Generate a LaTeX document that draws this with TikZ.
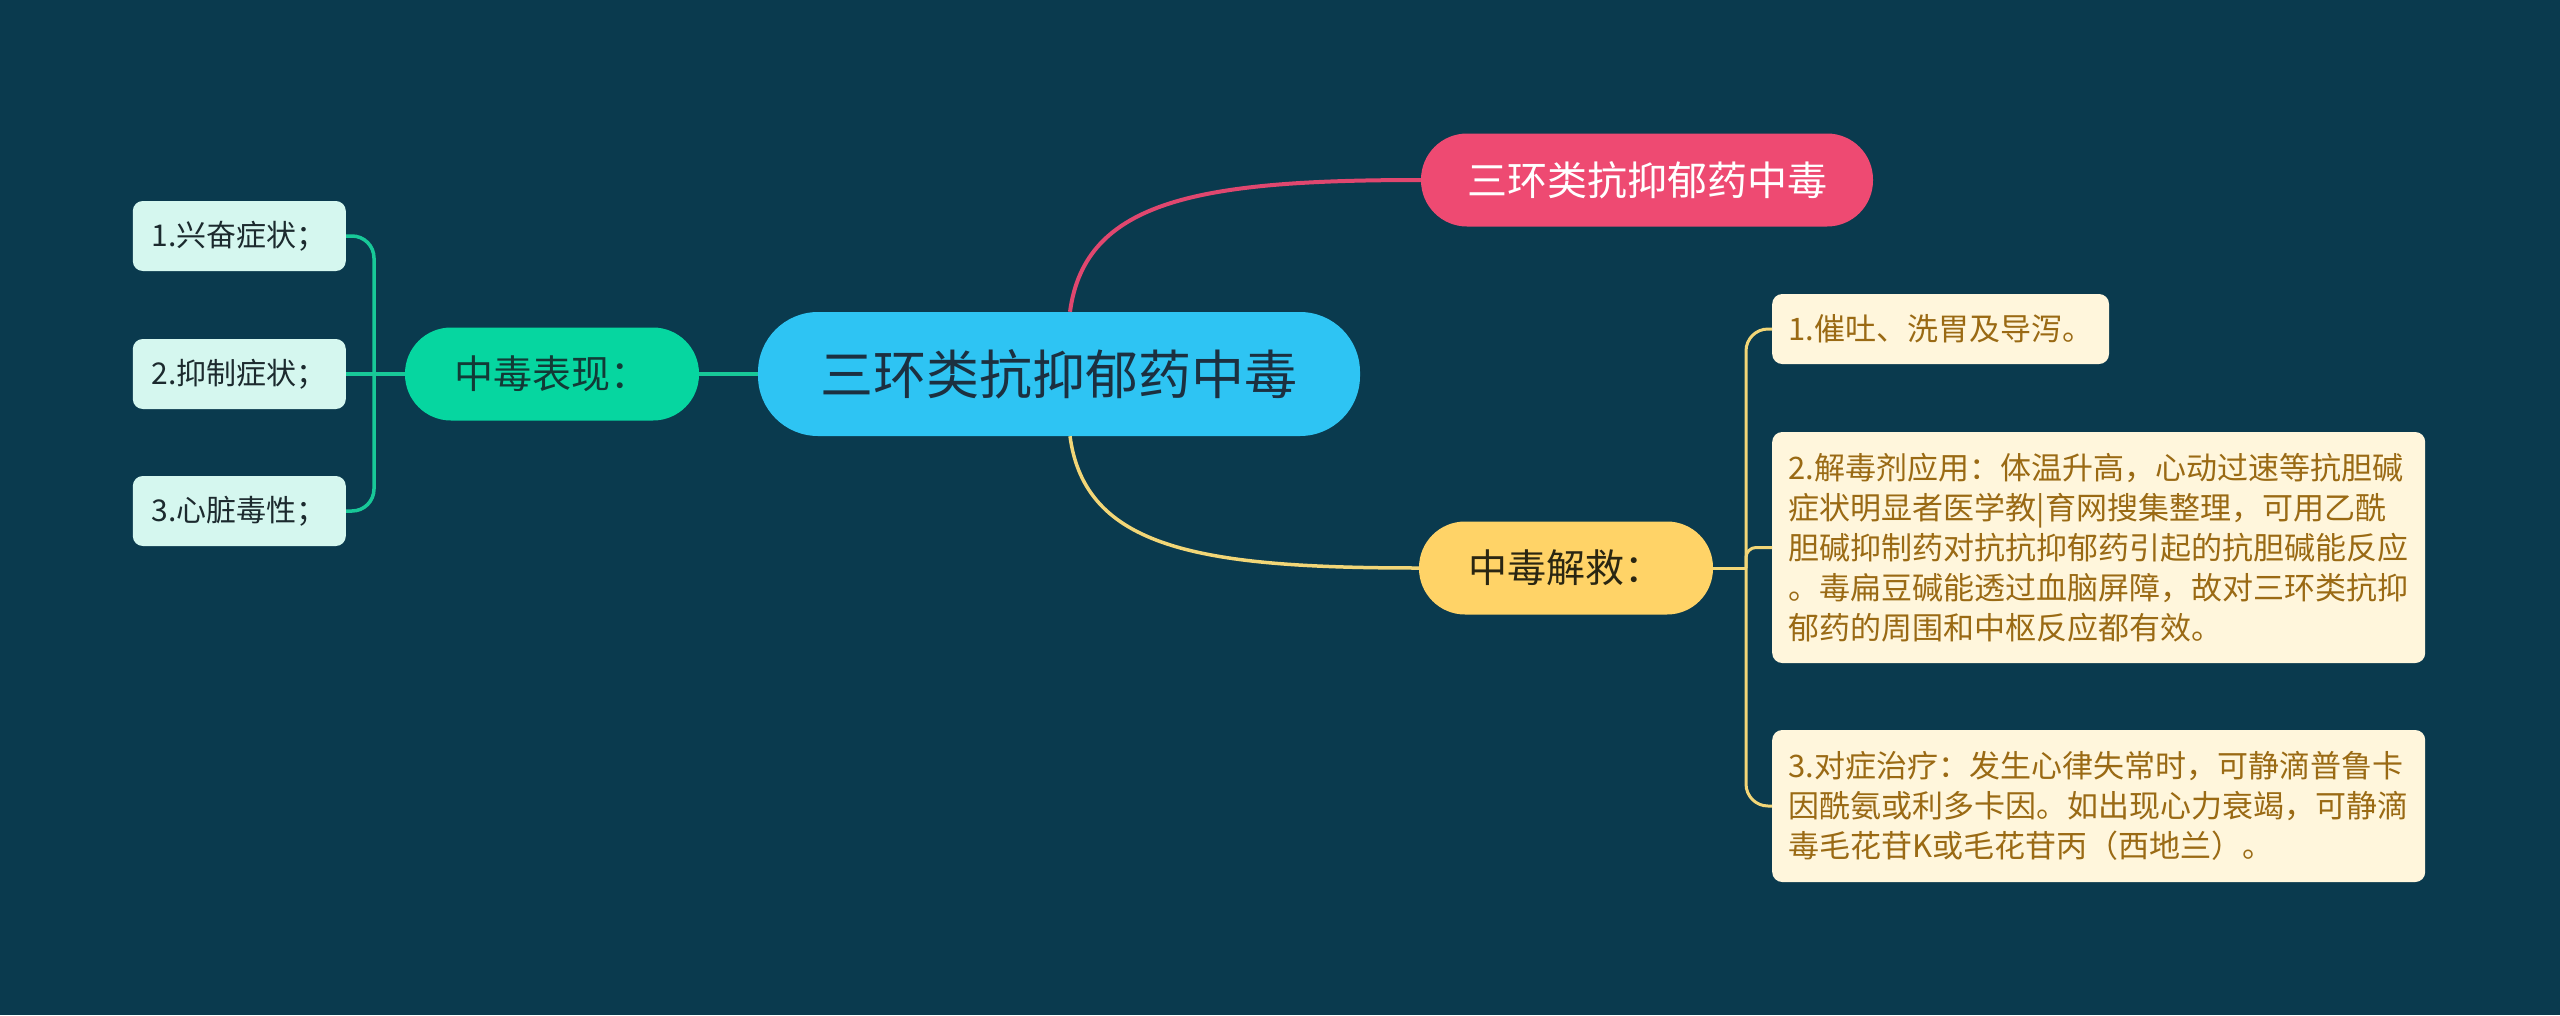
\documentclass[tikz,border=0pt]{standalone}
\usepackage{fontspec}
\newfontfamily\cjk{Noto Sans CJK SC}
\definecolor{bg}{HTML}{0A3A4E}
\definecolor{rootc}{HTML}{2EC4F3}
\definecolor{roott}{HTML}{1C3040}
\definecolor{pinkc}{HTML}{EE4A72}
\definecolor{pinkl}{HTML}{E0476F}
\definecolor{greenc}{HTML}{06D6A0}
\definecolor{greenl}{HTML}{18C898}
\definecolor{greent}{HTML}{123A36}
\definecolor{mint}{HTML}{D5F7EF}
\definecolor{mintt}{HTML}{1C2A2E}
\definecolor{yelc}{HTML}{FFD367}
\definecolor{yell}{HTML}{F2D677}
\definecolor{yelt}{HTML}{2A2612}
\definecolor{cream}{HTML}{FFF6DC}
\definecolor{creamt}{HTML}{9A6A14}
\begin{document}
\begin{tikzpicture}[x=1pt,y=-1pt,
  pill/.style={rectangle, rounded corners=46pt, inner sep=0pt, minimum height=93pt},
  lgreen/.style={rectangle, rounded corners=10pt, fill=mint, text=mintt, inner sep=0pt,
     minimum width=213pt, minimum height=70pt, font=\cjk\fontsize{30}{36}\selectfont},
  lcream/.style={rectangle, rounded corners=10pt, fill=cream, text=creamt, inner xsep=16pt, inner ysep=0pt,
     align=left, font=\cjk\fontsize{31}{40}\selectfont},
  gline/.style={draw=greenl, line width=3.5pt},
  yline/.style={draw=yell, line width=3pt},
]
\fill[bg] (0,0) rectangle (2560,1015);
\useasboundingbox (0,0) rectangle (2560,1015);

% main nodes
\node[pill, rounded corners=60pt, fill=rootc, text=roott, minimum width=602pt, minimum height=124pt,
  font=\cjk\fontsize{53}{60}\selectfont] (root) at (1059,374) {三环类抗抑郁药中毒};
\node[pill, fill=pinkc, text=white, minimum width=452pt,
  font=\cjk\fontsize{40}{46}\selectfont] (pink) at (1647,180) {三环类抗抑郁药中毒};
\node[pill, fill=greenc, text=greent, minimum width=294pt,
  font=\cjk\fontsize{39}{46}\selectfont] (green) at (552,374) {中毒表现：};
\node[pill, fill=yelc, text=yelt, minimum width=294pt,
  font=\cjk\fontsize{39}{46}\selectfont] (yel) at (1566,568) {中毒解救：};

% left leaves
\node[lgreen, anchor=east] (g1) at (346,236) {1.兴奋症状；};
\node[lgreen, anchor=east] (g2) at (346,374) {2.抑制症状；};
\node[lgreen, anchor=east] (g3) at (346,511) {3.心脏毒性；};

% right leaves
\node[lcream, anchor=west, minimum height=70pt] (y1) at (1772,329) {1.催吐、洗胃及导泻。};
\node[lcream, anchor=west, minimum width=653pt, minimum height=231pt] (y2) at (1772,547.5)
  {2.解毒剂应用：体温升高，心动过速等抗胆碱\\
   症状明显者医学教|育网搜集整理，可用乙酰\\
   胆碱抑制药对抗抗抑郁药引起的抗胆碱能反应\\
   。毒扁豆碱能透过血脑屏障，故对三环类抗抑\\
   郁药的周围和中枢反应都有效。};
\node[lcream, anchor=west, minimum width=653pt, minimum height=152pt] (y3) at (1772,806)
  {3.对症治疗：发生心律失常时，可静滴普鲁卡\\
   因酰氨或利多卡因。如出现心力衰竭，可静滴\\
   毒毛花苷K或毛花苷丙（西地兰）。};

% connectors from root
\draw[draw=pinkl, line width=4pt] ([xshift=11pt]root.north) .. controls +(15,-112) and +(-221,0) .. (pink.west);
\draw[yline, line width=3.5pt] ([xshift=11pt]root.south) .. controls +(15,112) and +(-220,0) .. (yel.west);
\draw[gline] (root.west) -- (green.east);

% green bracket
\coordinate (gj) at (374,374);
\draw[gline] (green.west) -- (gj);
\draw[gline, rounded corners=22pt] (gj) |- (g1.east);
\draw[gline, rounded corners=22pt] (gj) |- (g3.east);
\draw[gline] (gj) -- (g2.east);

% yellow bracket
\coordinate (yj) at (1746,568);
\draw[yline] (yel.east) -- (yj);
\draw[yline, rounded corners=22pt] (yj) |- (y1.west);
\draw[yline, rounded corners=10pt] (yj) |- (y2.west);
\draw[yline, rounded corners=22pt] (yj) |- (y3.west);
\end{tikzpicture}
\end{document}
